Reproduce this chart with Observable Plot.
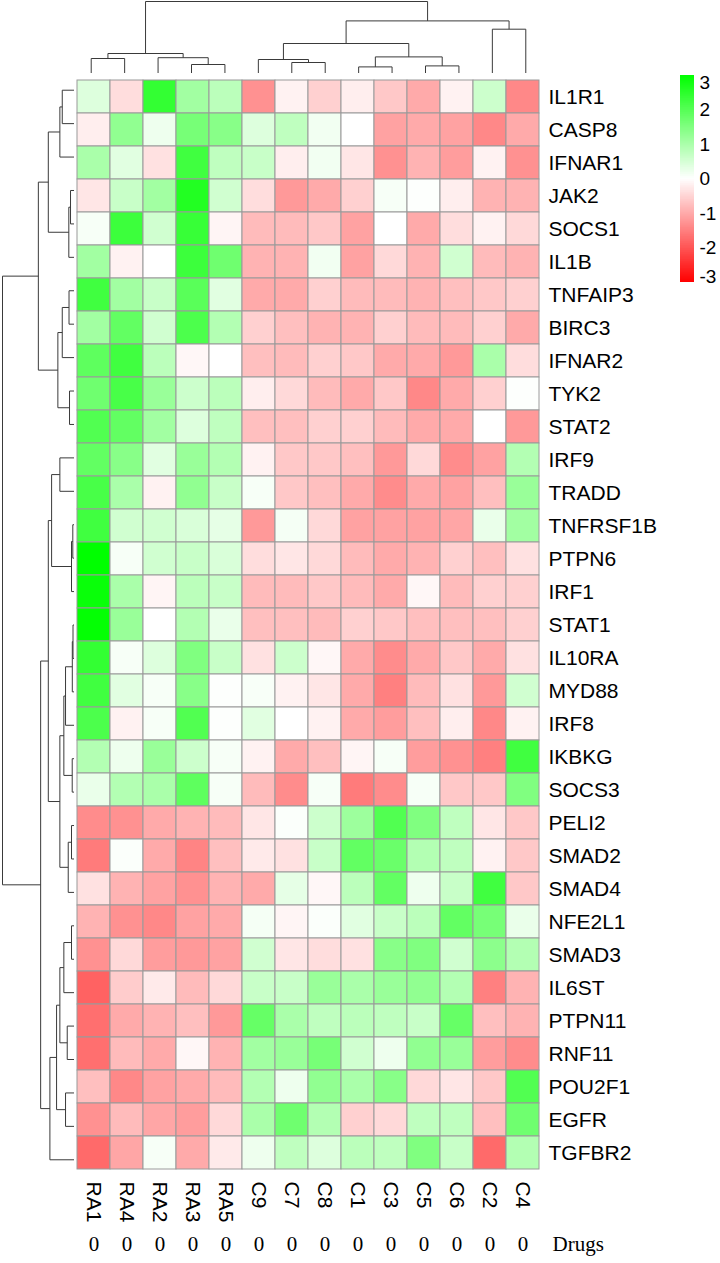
<!DOCTYPE html>
<html><head><meta charset="utf-8">
<script src="https://cdn.jsdelivr.net/npm/d3@7"></script>
<script src="https://cdn.jsdelivr.net/npm/@observablehq/plot@0.6"></script>
<style>
body{margin:0;background:#fff;}
#wrap{position:relative;width:720px;height:1263px;background:#fff;}
#wrap svg{position:absolute;}
</style></head><body><div id="wrap"></div>
<script>
const columns = ["RA1","RA4","RA2","RA3","RA5","C9","C7","C8","C1","C3","C5","C6","C2","C4"];
const drugs = [0,0,0,0,0,0,0,0,0,0,0,0,0,0];
const annotationLabel = "Drugs";
const genes = ["IL1R1","CASP8","IFNAR1","JAK2","SOCS1","IL1B","TNFAIP3","BIRC3","IFNAR2","TYK2","STAT2","IRF9","TRADD","TNFRSF1B","PTPN6","IRF1","STAT1","IL10RA","MYD88","IRF8","IKBKG","SOCS3","PELI2","SMAD2","SMAD4","NFE2L1","SMAD3","IL6ST","PTPN11","RNF11","POU2F1","EGFR","TGFBR2"];
const values = [
 [0.4,-0.4,2.4,1.1,0.8,-1.3,-0.15,-0.55,-0.2,-0.65,-1.0,-0.15,0.6,-1.4],
 [-0.2,1.3,0.2,1.6,1.4,0.4,0.75,0.15,0.0,-1.1,-1.0,-1.1,-1.4,-1.0],
 [1.0,0.35,-0.35,2.25,0.75,0.65,-0.2,0.15,-0.3,-1.3,-0.9,-1.15,-0.15,-1.3],
 [-0.3,0.65,1.1,2.6,0.55,-0.4,-1.2,-1.0,-0.55,0.1,0.02,-0.2,-0.9,-0.9],
 [0.1,2.3,0.55,2.35,-0.12,-0.8,-0.8,-0.65,-1.1,0.0,-1.0,-0.4,-0.15,-0.45],
 [1.1,-0.15,0.0,2.3,1.7,-0.9,-0.9,0.15,-1.1,-0.45,-0.9,0.55,-0.8,-0.9],
 [2.25,1.1,0.65,1.95,0.35,-1.0,-1.0,-0.55,-0.8,-0.8,-0.9,-0.75,-0.65,-0.55],
 [1.1,1.85,0.55,2.1,0.9,-0.55,-0.75,-0.9,-0.9,-0.55,-0.8,-0.8,-0.55,-1.0],
 [1.9,2.25,0.8,-0.1,0.0,-0.75,-0.8,-0.55,-0.65,-1.0,-1.0,-1.2,1.0,-0.4],
 [1.7,2.15,1.2,0.6,0.8,-0.2,-0.45,-0.8,-1.0,-0.65,-1.4,-1.0,-0.55,0.02],
 [2.05,1.85,1.1,0.4,0.75,-0.75,-0.75,-0.55,-0.55,-0.8,-1.0,-1.0,0.0,-1.2],
 [1.85,1.4,0.35,1.2,0.9,-0.15,-0.65,-0.65,-0.75,-1.2,-0.45,-1.35,-1.1,0.9],
 [2.15,1.0,-0.15,1.3,0.65,0.1,-0.65,-0.75,-1.0,-1.35,-1.0,-1.1,-0.75,1.2],
 [2.25,0.55,0.55,0.45,0.3,-1.2,0.12,-0.45,-1.1,-1.1,-1.1,-1.05,0.25,1.1],
 [3.0,0.1,0.55,0.65,0.45,-0.4,-0.3,-0.45,-0.8,-1.0,-0.9,-0.55,-0.75,-0.35],
 [2.9,1.0,-0.12,0.8,0.65,-0.8,-0.8,-0.65,-0.8,-1.0,-0.1,-0.8,-0.55,-0.55],
 [2.95,1.2,0.0,0.9,0.25,-0.75,-0.75,-0.8,-0.55,-0.65,-0.75,-0.75,-0.75,-0.55],
 [2.4,0.1,0.4,1.5,0.65,-0.35,0.6,-0.1,-1.0,-1.35,-1.0,-0.65,-1.0,-0.35],
 [2.25,0.35,0.1,1.4,0.02,0.08,-0.15,-0.3,-1.0,-1.5,-0.8,-0.35,-1.2,0.55],
 [2.1,-0.15,0.1,2.05,0.02,0.35,0.0,-0.15,-1.0,-1.15,-0.75,-0.2,-1.4,-0.15],
 [0.9,0.2,1.2,0.6,0.1,-0.15,-1.0,-0.75,-0.12,0.1,-1.15,-1.3,-1.5,2.25],
 [0.25,0.9,1.0,1.9,0.1,-0.8,-1.35,0.1,-1.55,-1.35,0.1,-0.65,-0.65,1.5],
 [-1.35,-1.3,-1.0,-0.9,-0.8,-0.3,0.05,0.6,1.15,2.05,1.5,0.75,-0.3,-0.65],
 [-1.55,0.05,-1.0,-1.45,-0.75,-0.25,-0.35,0.65,1.85,1.75,0.9,0.75,-0.15,-0.65],
 [-0.35,-0.9,-1.1,-1.3,-0.9,-1.0,0.3,-0.1,0.8,1.85,0.2,0.65,2.25,-0.65],
 [-0.9,-1.3,-1.4,-1.1,-1.0,0.12,-0.12,0.05,0.35,0.65,0.8,1.85,1.6,0.25],
 [-1.3,-0.45,-1.15,-1.2,-1.1,0.55,-0.3,-0.4,-0.35,1.4,1.5,0.55,1.35,0.9],
 [-1.85,-0.6,-0.25,-0.8,-0.45,0.65,0.65,1.2,1.0,1.2,1.3,0.9,-1.5,-0.9],
 [-1.7,-1.0,-0.9,-0.75,-1.2,1.8,1.0,0.75,0.8,0.75,0.65,1.8,-0.75,-0.9],
 [-1.7,-0.8,-1.0,-0.1,-0.9,1.1,1.2,1.6,0.55,0.2,1.3,1.2,-1.15,-1.35],
 [-0.75,-1.4,-1.1,-1.0,-0.8,0.9,0.2,1.3,1.0,1.4,-0.45,-0.3,-0.65,2.05],
 [-1.3,-0.8,-1.05,-1.15,-0.45,1.0,1.7,0.9,-0.55,-0.45,0.75,0.75,-0.75,1.7],
 [-1.75,-1.05,0.1,-1.0,-0.25,0.2,0.75,0.4,0.8,0.75,1.5,0.65,-1.75,0.9]
];
// dendrogram merges: [left, right, height]; a string is a leaf, a number is an earlier merge
const colMerges = [
 ["RA1","RA4",15], ["RA3","RA5",9], ["RA2",1,15.8], [0,2,20],
 ["C7","C8",11], ["C9",4,14], ["C1","C3",6.6], ["C5","C6",7.6], [6,7,16.6], [5,8,30],
 ["C2","C4",44.3], [9,10,52.6], [3,11,72]
];
const rowMerges = [
 ["CASP8","IFNAR1",9], ["JAK2","SOCS1",7.3], ["TNFAIP3","BIRC3",3], ["IL1B",2,10.7],
 [1,3,14.7], [0,4,18], ["IL1R1",5,24.7],
 ["TYK2","STAT2",3], ["IFNAR2",7,6.3], ["IRF9","TRADD",2.3], ["IRF1","STAT1",1.5],
 ["PTPN6",10,2.2], ["TNFRSF1B",11,9], [9,12,10.7], [8,13,14.7],
 ["MYD88","IRF8",1.7], ["IL10RA",15,3], ["IKBKG","SOCS3",14.7], [16,17,23],
 [14,18,26.3], [6,19,34],
 ["PELI2","SMAD2",5], ["NFE2L1","SMAD3",5.5], ["SMAD4",22,12.3], [21,23,16.7],
 ["PTPN11","RNF11",4], ["IL6ST",25,5.7], ["EGFR","TGFBR2",12.3], ["POU2F1",27,14.7],
 [26,28,26.3], [24,29,36.3], [20,30,72.3]
];
const legendTicks = [-3,-2,-1,0,1,2,3];

function dendro(order, merges) {
  const pos = new Map(order.map((d, i) => [d, i + 0.5]));
  const nodes = [], segs = [];
  const get = k => typeof k === "string" ? {p: pos.get(k), h: 0} : nodes[k];
  for (const [a, b, h] of merges) {
    const A = get(a), B = get(b);
    segs.push({p1: A.p, h1: A.h, p2: A.p, h2: h});
    segs.push({p1: B.p, h1: B.h, p2: B.p, h2: h});
    segs.push({p1: A.p, h1: h, p2: B.p, h2: h});
    nodes.push({p: (A.p + B.p) / 2, h});
  }
  return segs;
}

const cells = [];
genes.forEach((g, i) => columns.forEach((c, j) => cells.push({gene: g, col: c, v: values[i][j]})));

const colorScale = {type: "linear", domain: [-3, 0, 3], range: ["#ff0000", "#ffffff", "#00ff00"], interpolate: "rgb"};
const W = 720, H = 1263, ML = 74, MR = 178, MT = 73, MB = 87;
const sans = "'Liberation Sans', Arial, sans-serif";
const serif = "'Liberation Serif', 'Times New Roman', serif";

const mainPlot = Plot.plot({
  width: W, height: H, marginLeft: ML, marginRight: MR, marginTop: MT, marginBottom: MB,
  style: {fontFamily: sans, background: "transparent", overflow: "visible"},
  x: {domain: columns, padding: 0},
  y: {domain: genes, padding: 0},
  color: colorScale,
  marks: [
    Plot.cell(cells, {x: "col", y: "gene", fill: "v", stroke: "#9a9a9a", strokeWidth: 1, inset: 0}),
    Plot.axisY({anchor: "right", tickSize: 0, tickPadding: 6, fontSize: 21, label: null, fill: "#000"}),
    Plot.axisX({anchor: "bottom", tickSize: 0, tickPadding: 5, tickRotate: 90, fontSize: 21, label: null, fill: "#000"}),
    Plot.text(columns.map((c, i) => ({col: c, d: drugs[i]})), {x: "col", text: "d", frameAnchor: "bottom", dy: 74, fontFamily: serif, fontSize: 21, fill: "#000"}),
    Plot.text([annotationLabel], {frameAnchor: "bottom-right", dx: 10, dy: 74, textAnchor: "start", fontFamily: serif, fontSize: 21, fill: "#000"})
  ]
});

const topDendro = Plot.plot({
  width: W, height: MT, marginLeft: ML, marginRight: MR, marginTop: 1, marginBottom: 0,
  style: {background: "transparent"},
  x: {domain: [0, columns.length], axis: null},
  y: {domain: [0, 72], axis: null},
  marks: [Plot.link(dendro(columns, colMerges), {x1: "p1", y1: "h1", x2: "p2", y2: "h2", stroke: "#3a3a3a", strokeWidth: 1})]
});

const leftDendro = Plot.plot({
  width: ML, height: H, marginLeft: 2, marginRight: 0, marginTop: MT, marginBottom: MB,
  style: {background: "transparent"},
  x: {domain: [72.3, 0], axis: null},
  y: {domain: [0, genes.length], axis: null},
  marks: [Plot.link(dendro(genes, rowMerges), {x1: "h1", y1: "p1", x2: "h2", y2: "p2", stroke: "#3a3a3a", strokeWidth: 1})]
});

const step = 0.02;
const ramp = d3.range(-3, 3, step).map(v => ({y1: v, y2: v + step + 0.001, f: v + step / 2}));
const tickText = (data, lineAnchor) => Plot.text(data, {y: d => d, text: d => String(d), frameAnchor: "right", dx: 5, textAnchor: "start", fontSize: 19, fill: "#000", lineAnchor});
const legendPlot = Plot.plot({
  width: 40, height: 300, marginLeft: 0, marginRight: 26, marginTop: 75, marginBottom: 18,
  style: {fontFamily: sans, background: "transparent", overflow: "visible"},
  x: {axis: null},
  y: {domain: [-3, 3], axis: null},
  color: colorScale,
  marks: [
    Plot.barY(ramp, {y1: "y1", y2: "y2", fill: "f", shapeRendering: "crispEdges"}),
    tickText(legendTicks.filter(d => d === 3), "top"),
    tickText(legendTicks.filter(d => d > -3 && d < 3), "middle"),
    tickText(legendTicks.filter(d => d === -3), "bottom")
  ]
});

const wrap = document.getElementById("wrap");
for (const [el, l] of [[mainPlot, 0], [topDendro, 0], [leftDendro, 0], [legendPlot, 680]]) {
  el.style.left = l + "px"; el.style.top = "0px";
}
wrap.append(mainPlot, topDendro, leftDendro, legendPlot);
</script></body></html>
